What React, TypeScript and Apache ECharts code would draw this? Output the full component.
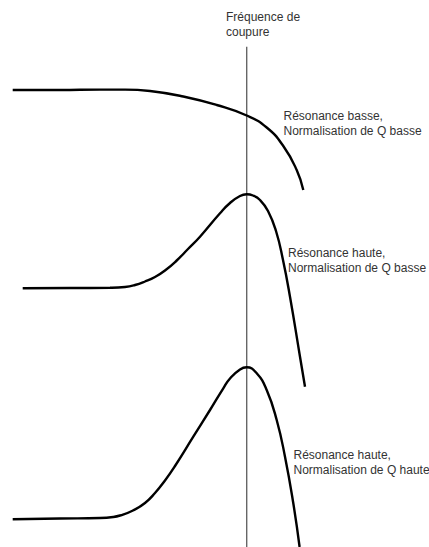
import React, { useEffect, useRef } from "react";
import * as echarts from "echarts";

// Frequency axis position (arbitrary units, left→right) and response level (top→bottom)
const cutoffX = 246.7;
const cutoffLine: [number, number][] = [
  [cutoffX, 46.7],
  [cutoffX, 547],
];

const lowResLowQ: [number, number][] = [
  [12.7, 90], [60, 90], [100, 89.6], [125, 89.6], [150, 91], [183.3, 96.5],
  [216.7, 105], [246.7, 115.5], [266.7, 127.5], [283.3, 146], [296.7, 170], [303.3, 190],
];

const highResLowQ: [number, number][] = [
  [22.7, 288.3], [70, 288], [110, 287.8], [125, 287], [135, 285], [145, 281.5],
  [155, 277], [165, 270.5], [176.7, 260.5], [188, 249], [200, 236.7], [220, 213.3],
  [230, 203], [240, 196], [246.7, 194.3], [253, 195.5], [260, 200], [268, 211],
  [276, 231], [283, 260], [290, 296.7], [300, 356.7], [305, 386.7],
];

const highResHighQ: [number, number][] = [
  [12.7, 519.3], [60, 518.5], [100, 518], [113.3, 517], [120, 515.5], [133, 510.5],
  [145, 503], [155, 493], [165, 480.5], [175, 466], [193.3, 436.7], [210, 410],
  [223.3, 388.3], [230, 378.5], [240, 369.5], [246.7, 367.3], [256.7, 373.3],
  [266.7, 390], [276.7, 420], [285, 456.7], [293.3, 503.3], [299.6, 547],
];

const labelCutoff = "Fréquence de\ncoupure";
const labelLowLow = "Résonance basse,\nNormalisation de Q basse";
const labelHighLow = "Résonance haute,\nNormalisation de Q basse";
const labelHighHigh = "Résonance haute,\nNormalisation de Q haute";

export default function App() {
  const ref = useRef<HTMLDivElement>(null);
  useEffect(() => {
    if (!ref.current) return;
    const chart = echarts.init(ref.current, undefined, { renderer: "svg" });
    const textStyle = (text: string) => ({
      text,
      fill: "#333",
      fontSize: 12,
      fontFamily: "Liberation Sans, Arial, sans-serif",
      lineHeight: 15,
      verticalAlign: "top",
      align: "left",
    });
    const curve = (data: [number, number][]) => ({
      type: "line",
      data,
      smooth: 0.5,
      showSymbol: false,
      symbol: "none",
      lineStyle: { color: "#000", width: 2.4 },
      z: 3,
    });
    chart.setOption({
      animation: false,
      grid: { left: 0, right: 0, top: 0, bottom: 0 },
      xAxis: { type: "value", min: 0, max: 429, show: false },
      yAxis: { type: "value", min: 0, max: 547, inverse: true, show: false },
      series: [
        {
          type: "line",
          data: cutoffLine,
          showSymbol: false,
          symbol: "none",
          lineStyle: { color: "#666", width: 1.4 },
          z: 2,
        },
        curve(lowResLowQ),
        curve(highResLowQ),
        curve(highResHighQ),
      ],
      graphic: [
        { type: "text", x: 226, y: 9.8, style: textStyle(labelCutoff) },
        { type: "text", x: 283.5, y: 108.5, style: textStyle(labelLowLow) },
        { type: "text", x: 288, y: 245.5, style: textStyle(labelHighLow) },
        { type: "text", x: 293.5, y: 447.5, style: textStyle(labelHighHigh) },
      ],
    });
    return () => chart.dispose();
  }, []);
  return (
    <div
      ref={ref}
      style={{ position: "fixed", left: 0, top: 0, width: 429, height: 547, background: "#fff" }}
    />
  );
}
